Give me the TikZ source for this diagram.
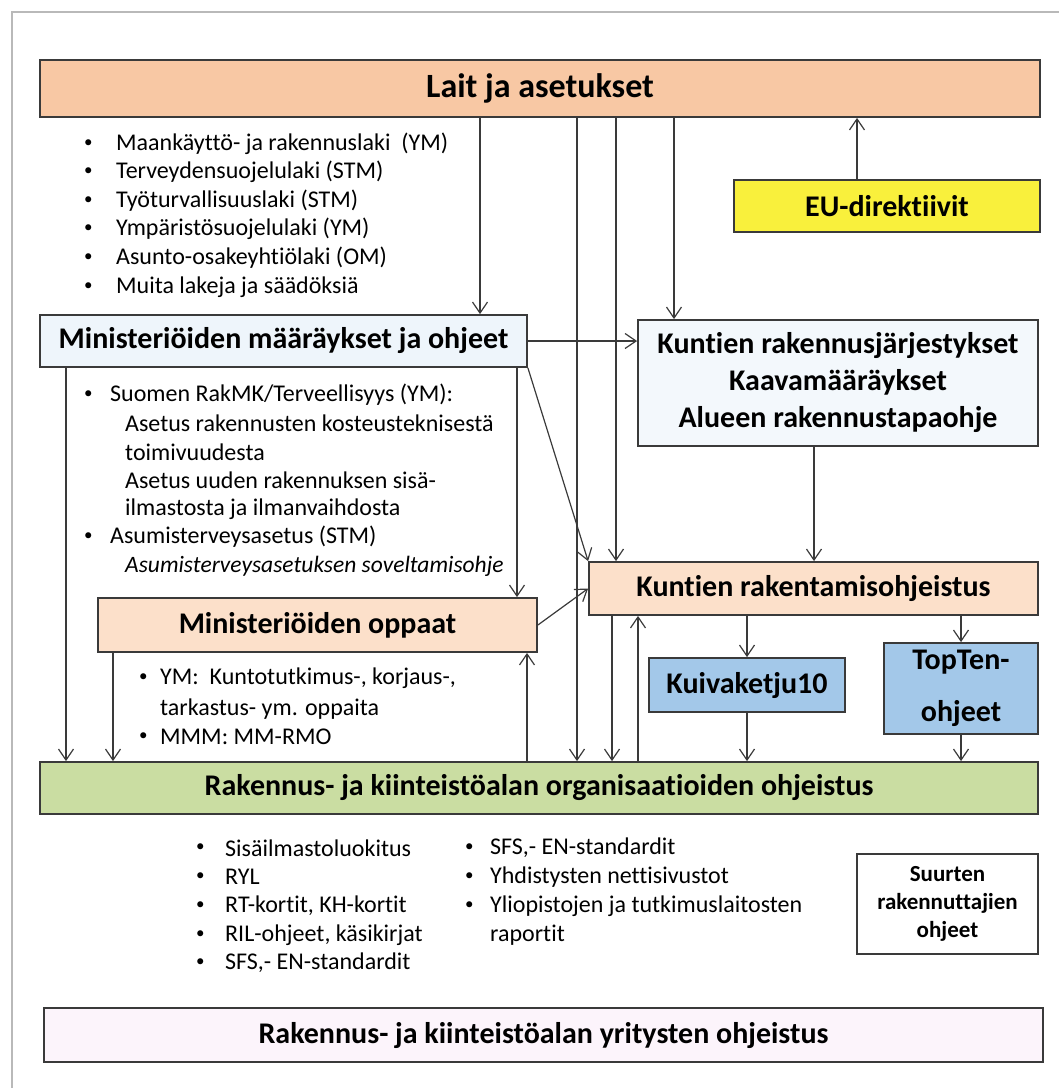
\documentclass[tikz,border=0pt]{standalone}
\usepackage{fontspec}
\setmainfont{Carlito}[Ligatures=NoCommon]
\usetikzlibrary{arrows.meta}
\definecolor{qlaki}{HTML}{F8C8A4}
\definecolor{qeu}{HTML}{F9F03C}
\definecolor{qmin}{HTML}{EEF5FB}
\definecolor{qkunta}{HTML}{F3F8FC}
\definecolor{qpeach}{HTML}{FCE0CA}
\definecolor{qblue}{HTML}{A3C8E9}
\definecolor{qgreen}{HTML}{CADDA2}
\definecolor{qlila}{HTML}{FCF4FB}
\definecolor{qline}{HTML}{3A3A3A}

\begin{document}
\begin{tikzpicture}[x=1pt, y=-1pt,
    box/.style={draw=qline, line width=1.8pt, inner sep=0pt, align=center, font=\fontsize{30}{36}\selectfont\bfseries},
    arr/.style={draw=qline, line width=1.2pt, -{Straight Barb[length=11pt, width=15pt]}},
    item/.style={anchor=west, inner sep=0pt, font=\fontsize{24}{28}\selectfont},
    dot/.style={anchor=west, inner sep=0pt, font=\fontsize{17}{20}\selectfont}]
    \useasboundingbox (0,0) rectangle (1059,1088);
    % Frame
    \draw[gray!55, line width=1.5pt] (1059,12) -- (12,12) -- (12,1088);

    % Boxes
    \node[box, fill=qlaki, minimum width=1000, minimum height=57, font=\fontsize{34}{40}\selectfont\bfseries] (laki) at (540,88.5) {Lait ja asetukset};
    \node[box, fill=qeu, minimum width=306, minimum height=52] (eu) at (887,206) {EU-direktiivit};
    \node[box, fill=qmin, minimum width=487, minimum height=52] (minohje) at (283.5,341) {Ministeriöiden määräykset ja ohjeet};
    \node[box, fill=qkunta, minimum width=400, minimum height=126, font=\fontsize{30}{37}\selectfont\bfseries] (kunjar) at (838,383) {Kuntien rakennusjärjestykset\\Kaavamääräykset\\Alueen rakennustapaohje};
    \node[box, fill=qpeach, minimum width=449, minimum height=53] (kunohj) at (813.5,588.5) {Kuntien rakentamisohjeistus};
    \node[box, fill=qpeach, minimum width=439, minimum height=54] (oppaat) at (317.5,625) {Ministeriöiden oppaat};
    \node[box, fill=qblue, minimum width=196, minimum height=54] (kuiva) at (747,685) {Kuivaketju10};
    \node[box, fill=qblue, minimum width=154, minimum height=91, font=\fontsize{30}{52}\selectfont\bfseries] (topten) at (961,688.5) {TopTen-\\ohjeet};
    \node[box, fill=qgreen, minimum width=998, minimum height=52] (org) at (539,788) {Rakennus- ja kiinteistöalan organisaatioiden ohjeistus};
    \node[box, fill=white, minimum width=181, minimum height=100, font=\fontsize{23}{28}\selectfont\bfseries] (suurten) at (947.5,904) {Suurten\\rakennuttajien\\ohjeet};
    \node[box, fill=qlila, minimum width=999, minimum height=54] (yrit) at (543.5,1035) {Rakennus- ja kiinteistöalan yritysten ohjeistus};

    % Lists
    \node[dot] (b1) at (84,144) {•};   \node[item] (t1) at (116,144) {Maankäyttö- ja rakennuslaki\ \ (YM)};
    \node[dot] (b2) at (84,172) {•};   \node[item] (t2) at (116,172) {Terveydensuojelulaki (STM)};
    \node[dot] (b3) at (84,201) {•};   \node[item] (t3) at (116,201) {Työturvallisuuslaki (STM)};
    \node[dot] (b4) at (84,229) {•};   \node[item] (t4) at (116,229) {Ympäristösuojelulaki (YM)};
    \node[dot] (b5) at (84,258) {•};   \node[item] (t5) at (116,258) {Asunto-osakeyhtiölaki (OM)};
    \node[dot] (b6) at (84,287) {•};   \node[item] (t6) at (116,287) {Muita lakeja ja säädöksiä};

    \node[dot] (m1) at (84,395) {•};   \node[item] (n1) at (110,395) {Suomen RakMK/Terveellisyys (YM):};
    \node[item] (n2) at (125,423) {Asetus rakennusten kosteusteknisestä};
    \node[item] (n3) at (125,452) {toimivuudesta};
    \node[item] (n4) at (125,480) {Asetus uuden rakennuksen sisä-};
    \node[item] (n5) at (125,509) {ilmastosta ja ilmanvaihdosta};
    \node[dot] (m2) at (84,537) {•};   \node[item] (n6) at (110,537) {Asumisterveysasetus (STM)};
    \node[item, font=\fontsize{23.5}{28}\selectfont\itshape] (n7) at (125,566) {Asumisterveysasetuksen soveltamisohje};

    \node[dot] (p1) at (139,678) {•};  \node[item] (q1) at (160,678) {YM:\ \ Kuntotutkimus-, korjaus-,};
    \node[item] (q2) at (160,709) {tarkastus- ym. oppaita};
    \node[dot] (p2) at (139,737) {•};  \node[item] (q3) at (160,737) {MMM: MM-RMO};

    \node[dot] (r1) at (196,848) {•};  \node[item] (s1) at (225,848) {Sisäilmastoluokitus};
    \node[dot] (r2) at (196,877) {•};  \node[item] (s2) at (225,877) {RYL};
    \node[dot] (r3) at (196,906) {•};  \node[item] (s3) at (225,906) {RT-kortit, KH-kortit};
    \node[dot] (r4) at (196,935) {•};  \node[item] (s4) at (225,935) {RIL-ohjeet, käsikirjat};
    \node[dot] (r5) at (196,963) {•};  \node[item] (s5) at (225,963) {SFS,- EN-standardit};
    \node[dot] (u1) at (465,848) {•};  \node[item] (v1) at (490,848) {SFS,- EN-standardit};
    \node[dot] (u2) at (465,877) {•};  \node[item] (v2) at (490,877) {Yhdistysten nettisivustot};
    \node[dot] (u3) at (465,906) {•};  \node[item] (v3) at (490,906) {Yliopistojen ja tutkimuslaitosten};
    \node[item] (v4) at (490,935) {raportit};

    % Columns of the connectors
    \coordinate (xmin) at (480,0);
    \coordinate (xorg) at (577,0);
    \coordinate (xkoh) at (616,0);
    \coordinate (xkun) at (674,0);
    \coordinate (xeu) at (857,0);
    \coordinate (xleft) at (66,0);
    \coordinate (xopl) at (113,0);
    \coordinate (xopr) at (517,0);
    \coordinate (xup) at (527,0);
    \coordinate (xjar) at (814,0);
    \coordinate (xdown) at (612,0);
    \coordinate (xback) at (638,0);

    % Connectors
    \draw[arr] (laki.south -| xmin) -- (minohje.north -| xmin);
    \draw[arr] (laki.south -| xorg) -- (org.north -| xorg);
    \draw[arr] (laki.south -| xkoh) -- (kunohj.north -| xkoh);
    \draw[arr] (laki.south -| xkun) -- (kunjar.north -| xkun);
    \draw[arr] (eu.north -| xeu) -- (laki.south -| xeu);
    \draw[arr] (minohje.east) -- (minohje.east -| kunjar.west);
    \draw[arr] (minohje.south east) -- (kunohj.north west);
    \draw[arr] (minohje.south -| xleft) -- (org.north -| xleft);
    \draw[arr] (minohje.south -| xopr) -- (oppaat.north -| xopr);
    \draw[arr] (oppaat.south -| xopl) -- (org.north -| xopl);
    \draw[arr] (oppaat.east) -- (kunohj.west);
    \draw[arr] (org.north -| xup) -- (oppaat.south -| xup);
    \draw[arr] (kunjar.south -| xjar) -- (kunohj.north -| xjar);
    \draw[arr] (kunohj.south -| xdown) -- (org.north -| xdown);
    \draw[arr] (org.north -| xback) -- (kunohj.south -| xback);
    \draw[arr] (kunohj.south -| kuiva.north) -- (kuiva.north);
    \draw[arr] (kuiva.south) -- (org.north -| kuiva.south);
    \draw[arr] (kunohj.south -| topten.north) -- (topten.north);
    \draw[arr] (topten.south) -- (org.north -| topten.south);
\end{tikzpicture}
\end{document}
